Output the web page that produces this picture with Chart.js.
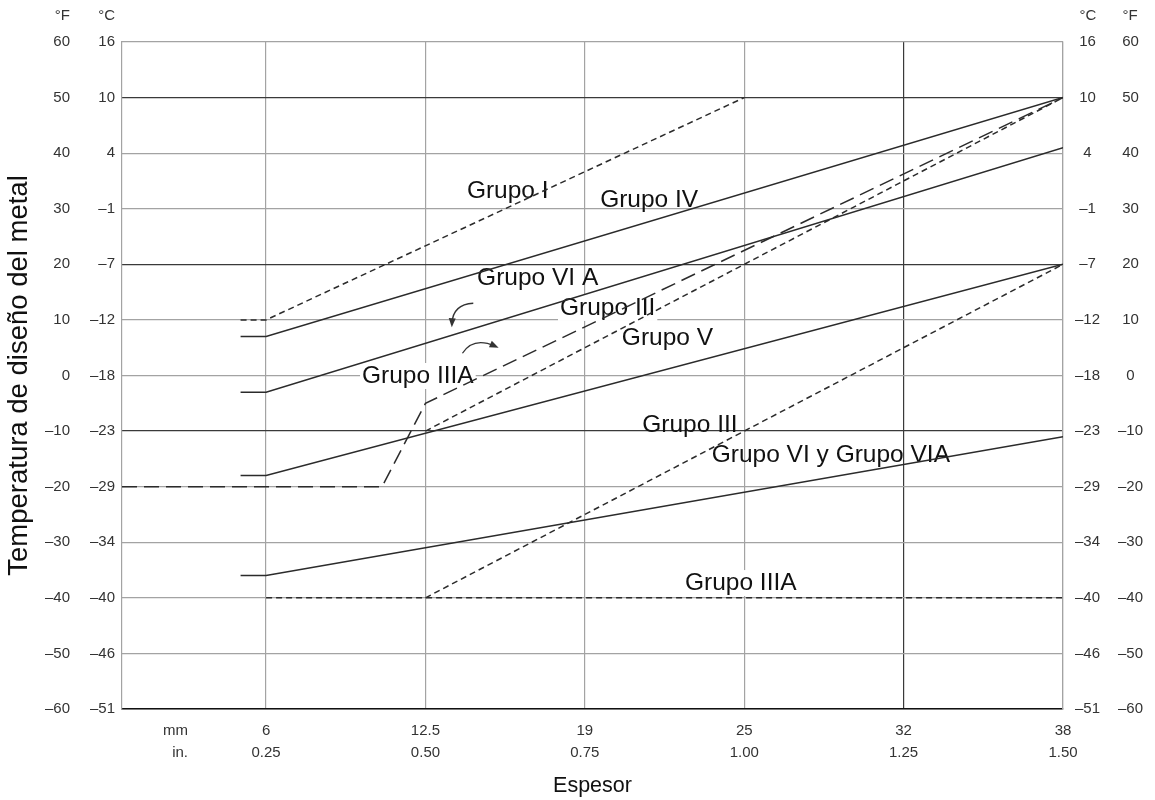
<!DOCTYPE html>
<html><head><meta charset="utf-8">
<script src="https://cdn.jsdelivr.net/npm/chart.js@4/dist/chart.umd.min.js"></script>
<style>html,body{margin:0;padding:0;background:#fff;}</style>
</head><body>
<canvas id="c" width="1155" height="800"></canvas>
<script>
// ---- tick labels ----
const xTickValues = [0.25, 0.5, 0.75, 1.0, 1.25, 1.5];
const xTickMM = ['6', '12.5', '19', '25', '32', '38'];
const xTickIn = ['0.25', '0.50', '0.75', '1.00', '1.25', '1.50'];
const yTickF = [60, 50, 40, 30, 20, 10, 0, -10, -20, -30, -40, -50, -60];
const yTickFText = ['60', '50', '40', '30', '20', '10', '0', '–10', '–20', '–30', '–40', '–50', '–60'];
const yTickC = ['16', '10', '4', '–1', '–7', '–12', '–18', '–23', '–29', '–34', '–40', '–46', '–51'];
const darkF = [50, 20, -10];
const darkX = [1.25];

// ---- series: thickness (in.) and design metal temperature (°F) ----
const grupoI_x = [0.21, 0.25, 1.0];
const grupoI_y = [10, 10, 50];
const grupoIV_x = [0.21, 0.25, 1.5];
const grupoIV_y = [7, 7, 50];
const grupoVIA_x = [0.21, 0.25, 1.5];
const grupoVIA_y = [-3, -3, 41];
const grupoIIIA_x = [0.024, 0.432, 0.5, 1.5];
const grupoIIIA_y = [-20, -20, -5, 50];
const grupoIII_x = [0.5, 1.5];
const grupoIII_y = [-10, 50];
const grupoV_x = [0.21, 0.25, 1.5];
const grupoV_y = [-18, -18, 20];
const grupoIIIlow_x = [0.5, 1.5];
const grupoIIIlow_y = [-40, 20];
const grupoVI_x = [0.21, 0.25, 1.5];
const grupoVI_y = [-36, -36, -11];
const grupoIIIAlow_x = [0.25, 1.5];
const grupoIIIAlow_y = [-40, -40];

// ---- annotation labels (data units) ----
const labels = [
  {text: 'Grupo I', x: 0.565, y: 31.9, bg: true},
  {text: 'Grupo IV', x: 0.774, y: 30.3, bg: false},
  {text: 'Grupo VI A', x: 0.581, y: 16.3, bg: false},
  {text: 'Grupo III', x: 0.711, y: 10.9, bg: true},
  {text: 'Grupo V', x: 0.808, y: 5.5, bg: false},
  {text: 'Grupo IIIA', x: 0.4005, y: -1.35, bg: true},
  {text: 'Grupo III', x: 0.840, y: -10.2, bg: false},
  {text: 'Grupo VI y Grupo VIA', x: 0.949, y: -15.6, bg: false},
  {text: 'Grupo IIIA', x: 0.907, y: -38.6, bg: true}
];

const pts = (xs, ys) => xs.map((v, i) => ({x: v, y: ys[i]}));
const LINE = '#2b2b2b';
const SHORT = [6, 4];
const LONG = [15, 7];
function ds(label, xs, ys, dash) {
  return {label, data: pts(xs, ys), borderColor: LINE, borderWidth: 1.5,
    borderDash: dash || [], pointRadius: 0, fill: false, tension: 0, yAxisID: 'yF'};
}

const FONT = '"Liberation Sans", Arial, Helvetica, sans-serif';
const TICKCOL = '#333';

const annot = {
  id: 'annot',
  beforeDatasetsDraw(chart) {
    const {ctx} = chart;
    const x = chart.scales.x, y = chart.scales.yF;
    ctx.save();
    ctx.font = '24.5px ' + FONT;
    ctx.textAlign = 'left';
    ctx.textBaseline = 'alphabetic';
    for (const l of labels) {
      const px = x.getPixelForValue(l.x), py = y.getPixelForValue(l.y);
      const w = ctx.measureText(l.text).width;
      if (l.bg) { ctx.fillStyle = '#fff'; ctx.fillRect(px - 2, py - 20, w + 4, 26); }
      ctx.fillStyle = '#111';
      ctx.fillText(l.text, px, py);
    }
    // curved arrows
    ctx.strokeStyle = '#333'; ctx.fillStyle = '#333'; ctx.lineWidth = 1.3;
    const P = (vx, vy) => [x.getPixelForValue(vx), y.getPixelForValue(vy)];
    function arrow(s, c, e) {
      ctx.beginPath(); ctx.moveTo(s[0], s[1]); ctx.quadraticCurveTo(c[0], c[1], e[0], e[1]); ctx.stroke();
      const ang = Math.atan2(e[1] - c[1], e[0] - c[0]);
      const L = 9, W = 3.5;
      const tx = e[0] + Math.cos(ang) * 4, ty = e[1] + Math.sin(ang) * 4;
      ctx.beginPath();
      ctx.moveTo(tx, ty);
      ctx.lineTo(tx - L * Math.cos(ang) + W * Math.sin(ang), ty - L * Math.sin(ang) - W * Math.cos(ang));
      ctx.lineTo(tx - L * Math.cos(ang) - W * Math.sin(ang), ty - L * Math.sin(ang) + W * Math.cos(ang));
      ctx.closePath(); ctx.fill();
    }
    arrow(P(0.575, 13.0), P(0.543, 12.8), P(0.5416, 9.4));
    arrow(P(0.558, 4.0), P(0.575, 7.0), P(0.609, 5.3));
    ctx.restore();
  },
  afterDraw(chart) {
    const {ctx} = chart;
    ctx.save();
    ctx.font = '15px ' + FONT;
    ctx.fillStyle = TICKCOL;
    ctx.textBaseline = 'middle';
    ctx.textAlign = 'right';
    ctx.fillText('°F', 70, 16);
    ctx.fillText('°C', 115, 16);
    ctx.textAlign = 'center';
    ctx.fillText('°C', 1088, 16);
    ctx.fillText('°F', 1130, 16);
    ctx.textAlign = 'right';
    const b = chart.chartArea.bottom;
    ctx.fillText('mm', 188, b + 22);
    ctx.fillText('in.', 188, b + 44);
    ctx.restore();
  }
};

const yCommon = {
  type: 'linear', min: -60, max: 60,
  afterBuildTicks: (s) => { s.ticks = yTickF.slice().reverse().map(v => ({value: v})); },
};

new Chart(document.getElementById('c'), {
  type: 'line',
  data: {
    datasets: [
      ds('Grupo I', grupoI_x, grupoI_y, SHORT),
      ds('Grupo IV', grupoIV_x, grupoIV_y),
      ds('Grupo VI A', grupoVIA_x, grupoVIA_y),
      ds('Grupo IIIA', grupoIIIA_x, grupoIIIA_y, LONG),
      ds('Grupo III', grupoIII_x, grupoIII_y, SHORT),
      ds('Grupo V', grupoV_x, grupoV_y),
      ds('Grupo III (b)', grupoIIIlow_x, grupoIIIlow_y, SHORT),
      ds('Grupo VI y Grupo VIA', grupoVI_x, grupoVI_y),
      ds('Grupo IIIA (b)', grupoIIIAlow_x, grupoIIIAlow_y, SHORT)
    ]
  },
  options: {
    responsive: false, animation: false, devicePixelRatio: 1,
    layout: {padding: {top: 42, bottom: 0, left: 0, right: 0}},
    plugins: {legend: {display: false}, tooltip: {enabled: false}},
    scales: {
      x: {
        type: 'linear', min: 0.024, max: 1.5,
        afterBuildTicks: (s) => { s.ticks = xTickValues.map(v => ({value: v})); },
        afterFit: (s) => { s.height = 91; },
        grid: {drawTicks: false, lineWidth: 1.2,
          color: (c) => darkX.includes(c.tick && c.tick.value) ? '#3a3a3a' : '#a3a3a3'},
        border: {display: true, color: '#111', width: 1.5},
        ticks: {
          padding: 11, maxRotation: 0, autoSkip: false, color: TICKCOL,
          font: {family: FONT, size: 15, lineHeight: 1.47},
          callback: (v) => { const i = xTickValues.indexOf(v); return i < 0 ? '' : [xTickMM[i], xTickIn[i]]; }
        },
        title: {display: true, text: 'Espesor', color: '#111', font: {family: FONT, size: 21.5}, padding: {top: 0, bottom: 1}}
      },
      yF: Object.assign({}, yCommon, {
        position: 'left', weight: 1,
        afterFit: (s) => { s.width = 75; },
        grid: {drawTicks: false, lineWidth: 1.2,
          color: (c) => darkF.includes(c.tick && c.tick.value) ? '#3a3a3a' : '#a3a3a3'},
        border: {display: false},
        ticks: {padding: 5, color: TICKCOL, font: {family: FONT, size: 15},
          callback: (v) => yTickFText[yTickF.indexOf(v)]},
        title: {display: true, text: 'Temperatura de diseño del metal', color: '#111',
          font: {family: FONT, size: 27.5}, padding: {top: 3, bottom: 0}}
      }),
      yC: Object.assign({}, yCommon, {
        position: 'left', weight: 0,
        afterFit: (s) => { s.width = 47; },
        grid: {display: false, drawTicks: false},
        border: {display: true, color: '#a3a3a3', width: 1.2},
        ticks: {padding: 7, color: TICKCOL, font: {family: FONT, size: 15},
          callback: (v) => yTickC[yTickF.indexOf(v)]}
      }),
      yC2: Object.assign({}, yCommon, {
        position: 'right', weight: 0,
        afterFit: (s) => { s.width = 50; },
        grid: {display: false, drawTicks: false},
        border: {display: true, color: '#a3a3a3', width: 1.2},
        ticks: {padding: 12, crossAlign: 'center', color: TICKCOL, font: {family: FONT, size: 15},
          callback: (v) => yTickC[yTickF.indexOf(v)]}
      }),
      yF2: Object.assign({}, yCommon, {
        position: 'right', weight: 1,
        afterFit: (s) => { s.width = 42; },
        grid: {display: false, drawTicks: false},
        border: {display: false},
        ticks: {padding: 5, crossAlign: 'center', color: TICKCOL, font: {family: FONT, size: 15},
          callback: (v) => yTickFText[yTickF.indexOf(v)]}
      })
    }
  },
  plugins: [annot]
});
</script>
</body></html>
